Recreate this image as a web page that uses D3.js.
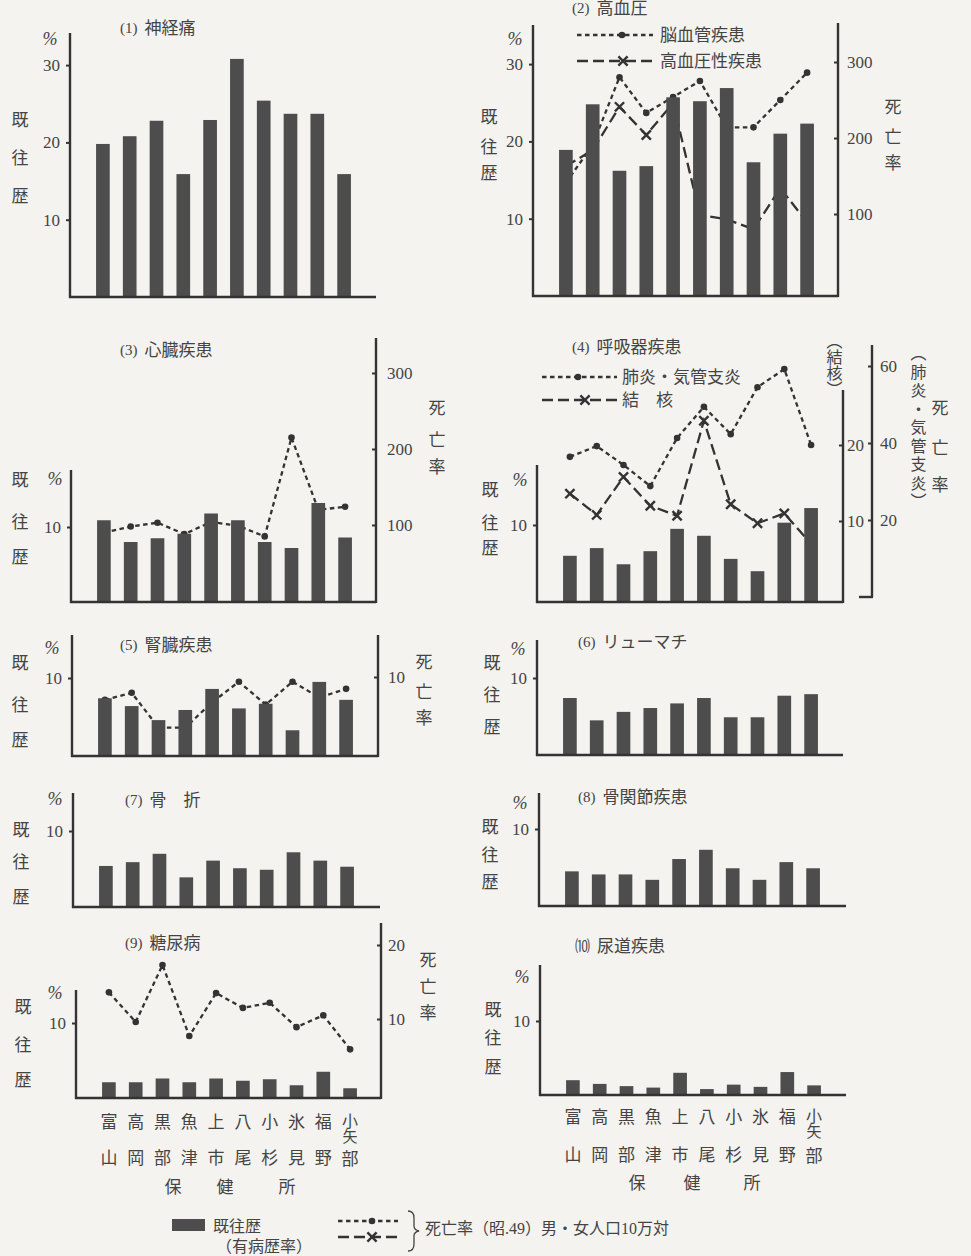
<!DOCTYPE html>
<html><head><meta charset="utf-8">
<script src="https://cdn.jsdelivr.net/npm/d3@7"></script>
<style>
body{margin:0;background:#f4f3ef}
svg{display:block}
text{font-family:"Liberation Serif","Noto Sans CJK JP",serif;fill:#444}
</style></head><body>
<svg id="c" width="971" height="1256"></svg>
<script>
// ---------------- DATA ----------------
const categories = ["富山","高岡","黒部","魚津","上市","八尾","小杉","氷見","福野","小矢部"];
const officeLabel = ["保","健","所"];
const panelNums = ["(1)","(2)","(3)","(4)","(5)","(6)","(7)","(8)","(9)","⑽"];
const panelNames = ["神経痛","高血圧","心臓疾患","呼吸器疾患","腎臓疾患","リューマチ","骨　折","骨関節疾患","糖尿病","尿道疾患"];
const leftTicksBig = [10,20,30];
const leftTicksSmall = [10];

// 既往歴 (有病歴率, %)
const prev1  = [19.8,20.8,22.8,15.9,22.9,30.8,25.4,23.7,23.7,15.9];
const prev2  = [18.9,24.8,16.2,16.8,25.7,25.2,26.9,17.3,21.0,22.3];
const prev3  = [10.9,8.0,8.5,9.1,11.8,10.9,8.0,7.2,13.2,8.6];
const prev4  = [6.0,7.0,4.9,6.6,9.5,8.6,5.6,4.0,10.3,12.2];
const prev5  = [7.4,6.4,4.6,5.9,8.6,6.1,6.7,3.3,9.5,7.2];
const prev6  = [7.4,4.5,5.6,6.1,6.7,7.4,4.9,4.9,7.7,7.9];
const prev7  = [5.4,5.9,7.0,3.9,6.1,5.1,4.9,7.2,6.1,5.3];
const prev8  = [4.5,4.1,4.1,3.4,6.1,7.3,4.9,3.4,5.7,4.9];
const prev9  = [2.1,2.1,2.6,2.1,2.6,2.3,2.5,1.7,3.5,1.3];
const prev10 = [2.0,1.5,1.2,1.0,3.0,0.8,1.4,1.1,3.1,1.3];

// 死亡率 (昭.49, 人口10万対)
const deathCerebro   = [141,191,280,233,254,275,214,214,250,286]; // 脳血管疾患
const deathHypert    = [163,184,241,204,246,99,93,80,134,89];     // 高血圧性疾患
const deathHeart     = [90,98,103,88,104,99,85,215,120,124];      // 心臓疾患
const deathPneumonia = [36.4,39.2,34.3,28.8,41.3,49.4,42.3,54.5,59.2,39.5]; // 肺炎・気管支炎
const deathTB        = [13.6,10.8,15.8,12.0,10.7,23.2,12.2,9.7,11.0,7.0];   // 結核
const deathKidney    = [7.1,8.0,3.6,3.6,6.8,9.4,6.5,9.4,7.4,8.5];           // 腎臓疾患
const deathDiabetes  = [13.6,9.6,17.3,7.7,13.5,11.5,12.2,8.9,10.5,5.9];     // 糖尿病

const legendTexts = {cerebro:"脳血管疾患", hypert:"高血圧性疾患", pneu:"肺炎・気管支炎", tb:"結　核"};

// ---------------- DRAW ----------------
const svg = d3.select("#c");
const INK = "#333";
const BAR = "#4d4d4d";
const FS = 17;

function ch(g, x, y, t, fs){
  g.append("text").attr("x",x).attr("y",y).attr("text-anchor","middle")
   .attr("dominant-baseline","central").style("font-size",(fs||FS)+"px").text(t);
}

function marker(g, type, cx, cy){
  if(type==="dot"){
    g.append("circle").attr("cx",cx).attr("cy",cy).attr("r",3.3).attr("fill",INK);
  } else {
    const s=4.6;
    g.append("path").attr("d",`M${cx-s},${cy-s}L${cx+s},${cy+s}M${cx-s},${cy+s}L${cx+s},${cy-s}`)
     .attr("stroke",INK).attr("stroke-width",2.4).attr("fill","none");
  }
}
function lineStyle(sel, type){
  sel.attr("fill","none").attr("stroke",INK).attr("stroke-width",2.3)
     .attr("stroke-dasharray", type==="dot" ? "4.5,3.5" : "11,5");
}

function drawPanel(p, idx){
  const g = svg.append("g");
  const x = d3.scaleBand().domain(categories).range([p.ax+19.5, p.ax+287.5])
              .paddingInner(0.49).paddingOuter(0.245);
  const y = d3.scaleLinear().domain([0,10]).range([p.base, p.base-p.px10]);
  const cx = c => x(c)+x.bandwidth()/2;

  // right scales
  const rs = (p.right||[]).map(r => d3.scaleLinear().domain([0,r.max]).range([r.zero, r.maxPx]));

  // lines (behind bars)
  const lg = g.append("g");
  (p.lines||[]).forEach(L=>{
    const sc = rs[L.axis||0];
    const gen = d3.line().x((d,i)=>cx(categories[i])).y(d=>sc(d));
    lg.append("path").attr("d",gen(L.vals)).call(lineStyle, L.style);
    L.vals.forEach((v,i)=>marker(lg, L.style, cx(categories[i]), sc(v)));
  });

  // bars
  g.append("g").selectAll("rect").data(p.bars).join("rect")
   .attr("x",(d,i)=>x(categories[i])).attr("width",x.bandwidth())
   .attr("y",d=>y(d)).attr("height",d=>y(0)-y(d)).attr("fill",BAR);

  // left axis
  g.append("line").attr("x1",p.ax).attr("x2",p.ax).attr("y1",p.base+1).attr("y2",p.top)
   .attr("stroke",INK).attr("stroke-width",2.4);
  const la = g.append("g").attr("transform",`translate(${p.ax},0)`)
   .call(d3.axisLeft(y).tickValues(p.ticks).tickSize(4).tickPadding(6).tickFormat(d3.format("d")));
  la.select(".domain").remove();
  la.selectAll("line").attr("stroke",INK).attr("stroke-width",2);
  la.selectAll("text").style("font-size",FS+"px").attr("fill","#444");

  // x axis (baseline)
  g.append("line").attr("x1",p.ax-1).attr("x2",p.xEnd).attr("y1",p.base).attr("y2",p.base)
   .attr("stroke",INK).attr("stroke-width",2.6);

  // right axes
  (p.right||[]).forEach((r,k)=>{
    const bottom = r.bottom!=null ? r.bottom : p.base+1;
    g.append("line").attr("x1",r.x).attr("x2",r.x).attr("y1",bottom).attr("y2",r.top)
     .attr("stroke",INK).attr("stroke-width",2.4);
    if(r.hook){
      g.append("line").attr("x1",r.x-13).attr("x2",r.x+1).attr("y1",bottom).attr("y2",bottom)
       .attr("stroke",INK).attr("stroke-width",2.4);
    }
    const ra = g.append("g").attr("transform",`translate(${r.x},0)`)
      .call(d3.axisRight(rs[k]).tickValues(r.ticks).tickSize(-4).tickPadding(r.pad).tickFormat(d3.format("d")));
    ra.select(".domain").remove();
    ra.selectAll("line").attr("stroke",INK).attr("stroke-width",2);
    ra.selectAll("text").style("font-size",FS+"px").attr("fill","#444");
  });

  // title
  const t = g.append("text").attr("x",p.tx).attr("y",p.ty).attr("dominant-baseline","central");
  t.append("tspan").style("font-size","15px").text(panelNums[idx]);
  t.append("tspan").attr("dx",7).style("font-size",FS+"px").text(panelNames[idx]);

  // %
  g.append("text").attr("x",p.pct[0]).attr("y",p.pct[1]).attr("text-anchor","middle")
   .attr("dominant-baseline","central").style("font-size","18px").style("font-style","italic").text("%");

  // 既往歴
  "既往歴".split("").forEach((c,i)=>ch(g,p.ylab.x,p.ylab.ys[i],c));
  // 死亡率
  if(p.rlab) "死亡率".split("").forEach((c,i)=>ch(g,p.rlab.x,p.rlab.ys[i],c));

  // legend inside panel
  (p.legend||[]).forEach(L=>{
    g.append("line").attr("x1",L.x0).attr("x2",L.x1).attr("y1",L.y).attr("y2",L.y).call(lineStyle,L.style);
    marker(g, L.style, L.mx, L.y);
    g.append("text").attr("x",L.tx).attr("y",L.y).attr("dominant-baseline","central")
     .style("font-size",FS+"px").text(L.text);
  });

  // x labels
  if(p.xl){
    categories.forEach((c,i)=>{
      const xx = cx(c);
      const chars = c.split("");
      if(chars.length===2){
        ch(g,xx,p.xl.r1,chars[0]); ch(g,xx,p.xl.r2,chars[1]);
      } else {
        ch(g,xx,p.xl.r1-1,chars[0],16); ch(g,xx,p.xl.r1+15,chars[1],15); ch(g,xx,p.xl.r2+1,chars[2]);
      }
    });
    officeLabel.forEach((c,i)=>ch(g,p.xl.ox[i],p.xl.r3,c));
  }
  return g;
}

const panels = [
 {ax:70, base:297, top:33, px10:77.3, xEnd:376, ticks:leftTicksBig, tx:120, ty:28, pct:[50,39],
  ylab:{x:20,ys:[120,158,196]}, bars:prev1},
 {ax:533, base:296, top:25, px10:77.3, xEnd:838, ticks:leftTicksBig, tx:572, ty:8, pct:[515,39],
  ylab:{x:489,ys:[117,147,173]}, bars:prev2,
  right:[{x:838, top:23, zero:290, max:300, maxPx:62, ticks:[100,200,300], pad:9}],
  rlab:{x:893,ys:[107,137,163]},
  lines:[{vals:deathCerebro, style:"dot"},{vals:deathHypert, style:"dash"}],
  legend:[{y:35,x0:577,x1:653,mx:622,style:"dot",text:legendTexts.cerebro,tx:660},
          {y:61,x0:577,x1:653,mx:623,style:"dash",text:legendTexts.hypert,tx:660}]},
 {ax:71, base:602, top:470, px10:75, xEnd:376, ticks:leftTicksSmall, tx:120, ty:350, pct:[55,479],
  ylab:{x:20,ys:[480,522,557]}, bars:prev3,
  right:[{x:376, top:338, zero:601, max:300, maxPx:373, ticks:[100,200,300], pad:11}],
  rlab:{x:437,ys:[408,440,467]},
  lines:[{vals:deathHeart, style:"dot"}]},
 {ax:537, base:602, top:465, px10:77, xEnd:843, ticks:leftTicksSmall, tx:572, ty:347, pct:[520,480],
  ylab:{x:490,ys:[490,523,548]}, bars:prev4,
  right:[{x:843, top:390, zero:597, max:20, maxPx:445, ticks:[10,20], pad:4},
         {x:872, top:345, bottom:597, zero:597, max:60, maxPx:366, ticks:[20,40,60], pad:8, hook:true}],
  rlab:{x:940,ys:[408,448,485]},
  lines:[{vals:deathPneumonia, axis:1, style:"dot"},{vals:deathTB, axis:0, style:"dash"}],
  legend:[{y:377,x0:542,x1:617,mx:578,style:"dot",text:legendTexts.pneu,tx:622},
          {y:400,x0:542,x1:617,mx:585,style:"dash",text:legendTexts.tb,tx:622}]},
 {ax:72, base:756, top:635, px10:78, xEnd:378, ticks:leftTicksSmall, tx:120, ty:645, pct:[52,648],
  ylab:{x:20,ys:[663,705,740]}, bars:prev5,
  right:[{x:378, top:635, zero:756, max:10, maxPx:677, ticks:[10], pad:10}],
  rlab:{x:424,ys:[662,692,718]},
  lines:[{vals:deathKidney, style:"dot"}]},
 {ax:537, base:755, top:640, px10:77, xEnd:843, ticks:leftTicksSmall, tx:578, ty:642, pct:[518,649],
  ylab:{x:492,ys:[663,695,727]}, bars:prev6},
 {ax:73, base:907, top:793, px10:76, xEnd:380, ticks:leftTicksSmall, tx:125, ty:800, pct:[55,799],
  ylab:{x:21,ys:[830,862,897]}, bars:prev7},
 {ax:539, base:906, top:793, px10:77, xEnd:846, ticks:leftTicksSmall, tx:578, ty:797, pct:[520,803],
  ylab:{x:490,ys:[827,855,882]}, bars:prev8},
 {ax:76, base:1098, top:990, px10:75, xEnd:381, ticks:leftTicksSmall, tx:125, ty:943, pct:[55,993],
  ylab:{x:23,ys:[1007,1045,1080]}, bars:prev9,
  right:[{x:381, top:923, zero:1093, max:20, maxPx:945, ticks:[10,20], pad:7}],
  rlab:{x:428,ys:[960,987,1013]},
  lines:[{vals:deathDiabetes, style:"dot"}],
  xl:{r1:1122, r2:1158, r3:1187, ox:[173,225,287]}},
 {ax:540, base:1095, top:965, px10:74, xEnd:846, ticks:leftTicksSmall, tx:575, ty:946, pct:[522,977],
  ylab:{x:493,ys:[1010,1038,1067]}, bars:prev10,
  xl:{r1:1117, r2:1155, r3:1183, ox:[637,692,752]}}
];
panels.forEach((p,i)=>drawPanel(p,i));

// vertical side labels for panel 4
svg.append("text").attr("x",833).attr("y",333).style("writing-mode","vertical-rl")
  .style("font-size","16px").text("（結核）");
svg.append("text").attr("x",917).attr("y",345).style("writing-mode","vertical-rl")
  .style("font-size","16px").style("letter-spacing","2.5px").text("（肺炎・気管支炎）");

// bottom legend
const lgd = svg.append("g");
lgd.append("rect").attr("x",172).attr("y",1219).attr("width",33).attr("height",12).attr("fill",BAR);
lgd.append("text").attr("x",213).attr("y",1226).attr("dominant-baseline","central").style("font-size","16px").text("既往歴");
lgd.append("text").attr("x",216).attr("y",1246).attr("dominant-baseline","central").style("font-size","16px").text("（有病歴率）");
lgd.append("line").attr("x1",338).attr("x2",398).attr("y1",1221).attr("y2",1221).call(lineStyle,"dot");
marker(lgd,"dot",372,1221);
lgd.append("line").attr("x1",338).attr("x2",398).attr("y1",1237).attr("y2",1237).call(lineStyle,"dash");
marker(lgd,"dash",372,1237);
lgd.append("path").attr("d","M408,1211 Q414,1211 414,1218 L414,1226 Q414,1230 419,1231 Q414,1232 414,1236 L414,1244 Q414,1251 408,1251")
   .attr("fill","none").attr("stroke","#444").attr("stroke-width",1.3);
lgd.append("text").attr("x",425).attr("y",1228).attr("dominant-baseline","central").style("font-size","16px")
   .text("死亡率（昭.49）男・女人口10万対");
</script>
</body></html>
